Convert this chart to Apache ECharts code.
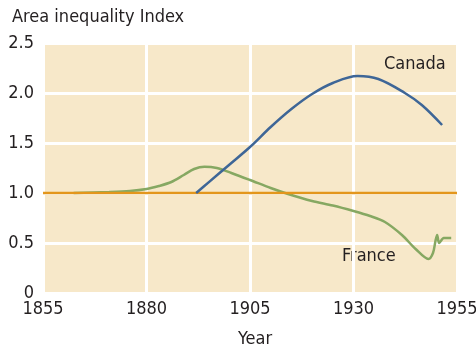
<!DOCTYPE html>
<html>
<head>
<meta charset="utf-8">
<script src="https://cdn.jsdelivr.net/npm/echarts@6/dist/echarts.min.js"></script>
<style>
  html, body { margin: 0; padding: 0; background: #fff; }
  #chart { width: 476px; height: 346px; }
</style>
</head>
<body>
<div id="chart"></div>
<script>
// Area inequality index, Canada vs France
const xTicks = [1855, 1880, 1905, 1930, 1955];
const yTicks = [0, 0.5, 1.0, 1.5, 2.0, 2.5];

const canadaYears = [1892, 1895, 1900, 1905, 1910, 1915, 1920, 1925, 1931, 1936, 1942.4, 1946.5, 1951.4];
const canadaValues = [1.0, 1.106, 1.283, 1.46, 1.66, 1.84, 1.99, 2.1, 2.17, 2.14, 2.0, 1.88, 1.68];

const franceYears = [1862.4, 1871, 1876, 1880, 1883, 1886, 1889, 1891.5, 1894, 1897, 1900.5, 1905, 1910, 1914.2, 1920, 1925, 1930, 1934, 1937.6, 1941.7, 1945, 1948.1, 1949.2, 1949.8, 1950.2, 1950.7, 1951.8, 1953.6];
const franceValues = [1.0, 1.01, 1.02, 1.04, 1.07, 1.11, 1.18, 1.24, 1.263, 1.25, 1.2, 1.13, 1.05, 0.99, 0.92, 0.875, 0.82, 0.77, 0.71, 0.58, 0.44, 0.34, 0.40, 0.52, 0.58, 0.50, 0.55, 0.55];

const baselineYears = [1855, 1955];
const baselineValues = [1.0, 1.0];

const FONT = "'DejaVu Sans Condensed', 'Liberation Sans Narrow', sans-serif";
const TEXT = '#231f20';

const zip = (xs, ys) => xs.map((x, i) => [x, ys[i]]);

const chart = echarts.init(document.getElementById('chart'), null, { renderer: 'canvas' });
chart.setOption({
  animation: false,
  backgroundColor: '#ffffff',
  grid: {
    left: 43, right: 19, top: 43, bottom: 53,
    containLabel: false, outerBoundsMode: 'none',
    show: true, backgroundColor: '#f7e8c9', borderWidth: 0
  },
  xAxis: {
    type: 'value',
    min: xTicks[0], max: xTicks[xTicks.length - 1], interval: 25,
    axisLine: { show: false }, axisTick: { show: false },
    axisLabel: { color: TEXT, fontFamily: FONT, fontSize: 18, margin: 7,
      formatter: v => String(v) },
    splitLine: { show: true, lineStyle: { color: '#ffffff', width: 3 } }
  },
  yAxis: {
    type: 'value',
    min: yTicks[0], max: yTicks[yTicks.length - 1], interval: 0.5,
    axisLine: { show: false }, axisTick: { show: false },
    axisLabel: {
      color: TEXT, fontFamily: FONT, fontSize: 18, margin: 9,
      formatter: v => v === 0 ? '0' : v.toFixed(1)
    },
    splitLine: { show: true, lineStyle: { color: '#ffffff', width: 3 } }
  },
  graphic: [
    { type: 'text', left: 12, top: 8,
      style: { text: 'Area inequality Index', fill: TEXT, font: '18px ' + FONT } },
    { type: 'text', left: 238, top: 330,
      style: { text: 'Year', fill: TEXT, font: '18px ' + FONT } },
    { type: 'text', left: 384, top: 55,
      style: { text: 'Canada', fill: TEXT, font: '18px ' + FONT } },
    { type: 'text', left: 342, top: 247,
      style: { text: 'France', fill: TEXT, font: '18px ' + FONT } }
  ],
  series: [
    {
      name: 'France', type: 'line', data: zip(franceYears, franceValues),
      smooth: 0.3, showSymbol: false, z: 3,
      lineStyle: { color: '#86a862', width: 2.5 }
    },
    {
      name: 'Baseline', type: 'line', data: zip(baselineYears, baselineValues),
      showSymbol: false, z: 4,
      lineStyle: { color: '#e3961c', width: 2.5 }
    },
    {
      name: 'Canada', type: 'line', data: zip(canadaYears, canadaValues),
      smooth: 0.35, showSymbol: false, z: 5,
      lineStyle: { color: '#3e6697', width: 2.5 }
    }
  ]
});
</script>
</body>
</html>
